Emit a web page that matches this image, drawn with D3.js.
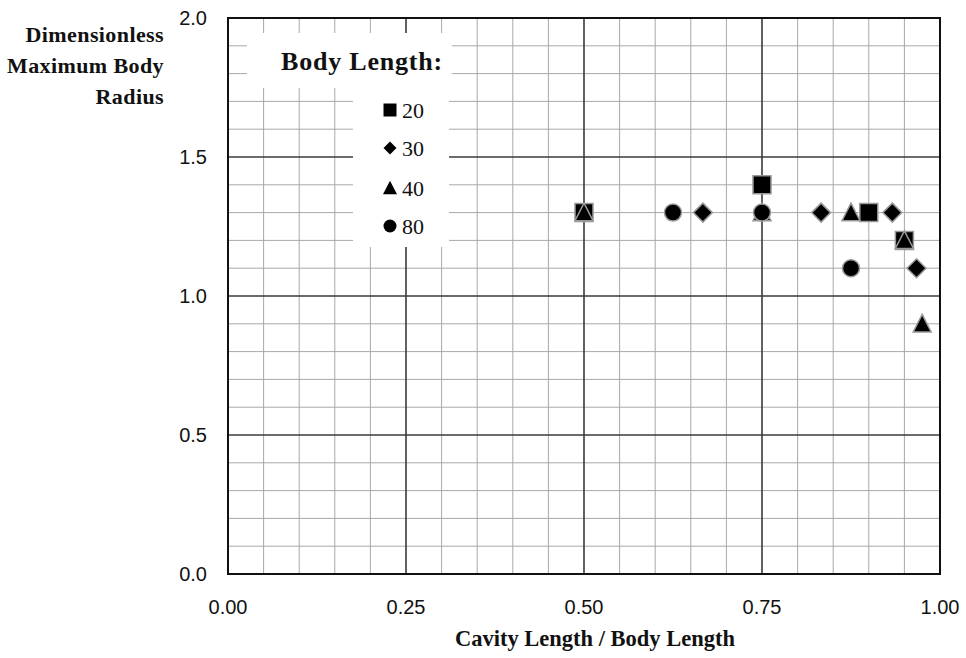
<!DOCTYPE html>
<html lang="en">
  <head>
    <meta charset="utf-8">
    <title>Dimensionless maximum body radius</title>
    <style>
      body {margin: 0; background: #fff;}
      svg {display: block;}
      .tick-label {font-family: "Liberation Sans", Arial, sans-serif; font-size: 20px; fill: #111;}
      .title {font-family: "Liberation Serif", "Times New Roman", serif; font-weight: bold; fill: #111;}
      .minor {stroke: #a8a8a8; stroke-width: 1;}
      .major {stroke: #3a3a3a; stroke-width: 1.6;}
    </style>
    <script src="https://d3js.org/d3.v7.min.js"></script>
  </head>
  <body>
    <script>
      // data
      var seriesNames = ["20", "30", "40", "80"];
      var seriesShapes = ["square", "diamond", "triangle", "circle"];
      var ratio20 = [0.5, 0.75, 0.9, 0.95];
      var radius20 = [1.3, 1.4, 1.3, 1.2];
      var ratio30 = [0.667, 0.833, 0.933, 0.967];
      var radius30 = [1.3, 1.3, 1.3, 1.1];
      var ratio40 = [0.5, 0.75, 0.875, 0.95, 0.975];
      var radius40 = [1.3, 1.3, 1.3, 1.2, 0.9];
      var ratio80 = [0.625, 0.75, 0.875];
      var radius80 = [1.3, 1.3, 1.1];
      var xTicks = [0, 0.25, 0.5, 0.75, 1.0];
      var yTicks = [0, 0.5, 1.0, 1.5, 2.0];

      var ratios = [ratio20, ratio30, ratio40, ratio80];
      var radii = [radius20, radius30, radius40, radius80];

      var W = 966, H = 658;
      var plotLeft = 228, plotTop = 18, plotRight = 940, plotBottom = 574;

      var svg = d3.select("body").append("svg")
        .attr("width", W)
        .attr("height", H);

      var x = d3.scaleLinear().domain([0, 1]).range([plotLeft, plotRight]);
      var y = d3.scaleLinear().domain([0, 2]).range([plotBottom, plotTop]);

      // grid
      var grid = svg.append("g");
      grid.selectAll("line.vminor")
        .data(x.ticks(20).filter(function(d) { return xTicks.indexOf(+d.toFixed(2)) < 0; }))
        .enter().append("line")
        .attr("class", "minor")
        .attr("x1", function(d) { return x(d); })
        .attr("x2", function(d) { return x(d); })
        .attr("y1", plotTop).attr("y2", plotBottom);
      grid.selectAll("line.hminor")
        .data(y.ticks(20).filter(function(d) { return yTicks.indexOf(+d.toFixed(1)) < 0; }))
        .enter().append("line")
        .attr("class", "minor")
        .attr("y1", function(d) { return y(d); })
        .attr("y2", function(d) { return y(d); })
        .attr("x1", plotLeft).attr("x2", plotRight);
      grid.selectAll("line.vmajor")
        .data(xTicks.slice(1, -1))
        .enter().append("line")
        .attr("class", "major")
        .attr("x1", function(d) { return x(d); })
        .attr("x2", function(d) { return x(d); })
        .attr("y1", plotTop).attr("y2", plotBottom);
      grid.selectAll("line.hmajor")
        .data(yTicks.slice(1, -1))
        .enter().append("line")
        .attr("class", "major")
        .attr("y1", function(d) { return y(d); })
        .attr("y2", function(d) { return y(d); })
        .attr("x1", plotLeft).attr("x2", plotRight);

      // plot border
      svg.append("rect")
        .attr("x", plotLeft).attr("y", plotTop)
        .attr("width", plotRight - plotLeft).attr("height", plotBottom - plotTop)
        .attr("fill", "none")
        .attr("stroke", "#111")
        .attr("stroke-width", 2);

      // tick labels
      svg.selectAll("text.xt")
        .data(xTicks)
        .enter().append("text")
        .attr("class", "tick-label")
        .attr("x", function(d) { return x(d); })
        .attr("y", 614)
        .attr("text-anchor", "middle")
        .text(function(d) { return d3.format(".2f")(d); });
      svg.selectAll("text.yt")
        .data(yTicks)
        .enter().append("text")
        .attr("class", "tick-label")
        .attr("x", 207)
        .attr("y", function(d) { return y(d); })
        .attr("dy", "0.36em")
        .attr("text-anchor", "end")
        .text(function(d) { return d3.format(".1f")(d); });

      // axis titles
      svg.append("text")
        .attr("class", "title")
        .attr("x", 595).attr("y", 646)
        .attr("text-anchor", "middle")
        .style("font-size", "22.5px")
        .text("Cavity Length / Body Length");
      var yTitle = svg.append("text")
        .attr("class", "title")
        .attr("text-anchor", "end")
        .style("font-size", "22px")
        .style("letter-spacing", "0.4px");
      ["Dimensionless", "Maximum Body", "Radius"].forEach(function(s, i) {
        yTitle.append("tspan").attr("x", 164).attr("y", 42 + i * 31).text(s);
      });

      // marker shapes
      function markerPath(shape, size) {
        var s = size / 2;
        if (shape == "square") return "M" + -s + "," + -s + "H" + s + "V" + s + "H" + -s + "Z";
        if (shape == "diamond") return "M0," + -s + "L" + s + ",0L0," + s + "L" + -s + ",0Z";
        if (shape == "triangle") return "M0," + (-s * 1.05) + "L" + s + "," + (s * 0.9) + "L" + -s + "," + (s * 0.9) + "Z";
        return d3.arc()({innerRadius: 0, outerRadius: s, startAngle: 0, endAngle: 2 * Math.PI});
      }
      var markerSize = {square: 18, diamond: 19, triangle: 18, circle: 17};

      // points
      seriesNames.forEach(function(name, k) {
        var shape = seriesShapes[k];
        svg.append("g").selectAll("path")
          .data(ratios[k].map(function(r, i) { return [r, radii[k][i]]; }))
          .enter().append("path")
          .attr("transform", function(d) { return "translate(" + x(d[0]) + "," + y(d[1]) + ")"; })
          .attr("d", markerPath(shape, markerSize[shape]))
          .attr("fill", "#000")
          .attr("stroke", "#999")
          .attr("stroke-width", 1.5);
      });

      // legend: title box and items box
      svg.append("rect")
        .attr("x", 247).attr("y", 33).attr("width", 205).attr("height", 55)
        .attr("fill", "#fff");
      svg.append("rect")
        .attr("x", 353).attr("y", 87).attr("width", 96).attr("height", 160)
        .attr("fill", "#fff");
      svg.append("text")
        .attr("class", "title")
        .attr("x", 281).attr("y", 70)
        .style("font-size", "26px")
        .style("letter-spacing", "0.8px")
        .text("Body Length:");
      var legendY = [110, 148, 188, 226];
      var legendSize = {square: 13, diamond: 13, triangle: 14, circle: 13};
      var items = svg.append("g").selectAll("g")
        .data(seriesNames)
        .enter().append("g")
        .attr("transform", function(d, i) { return "translate(390," + legendY[i] + ")"; });
      items.append("path")
        .attr("d", function(d, i) { return markerPath(seriesShapes[i], legendSize[seriesShapes[i]]); })
        .attr("fill", "#000");
      items.append("text")
        .attr("x", 12).attr("dy", "0.35em")
        .style("font-family", "'Liberation Serif', 'Times New Roman', serif")
        .style("font-size", "22px")
        .attr("fill", "#111")
        .text(function(d) { return d; });
    </script>
  </body>
</html>
